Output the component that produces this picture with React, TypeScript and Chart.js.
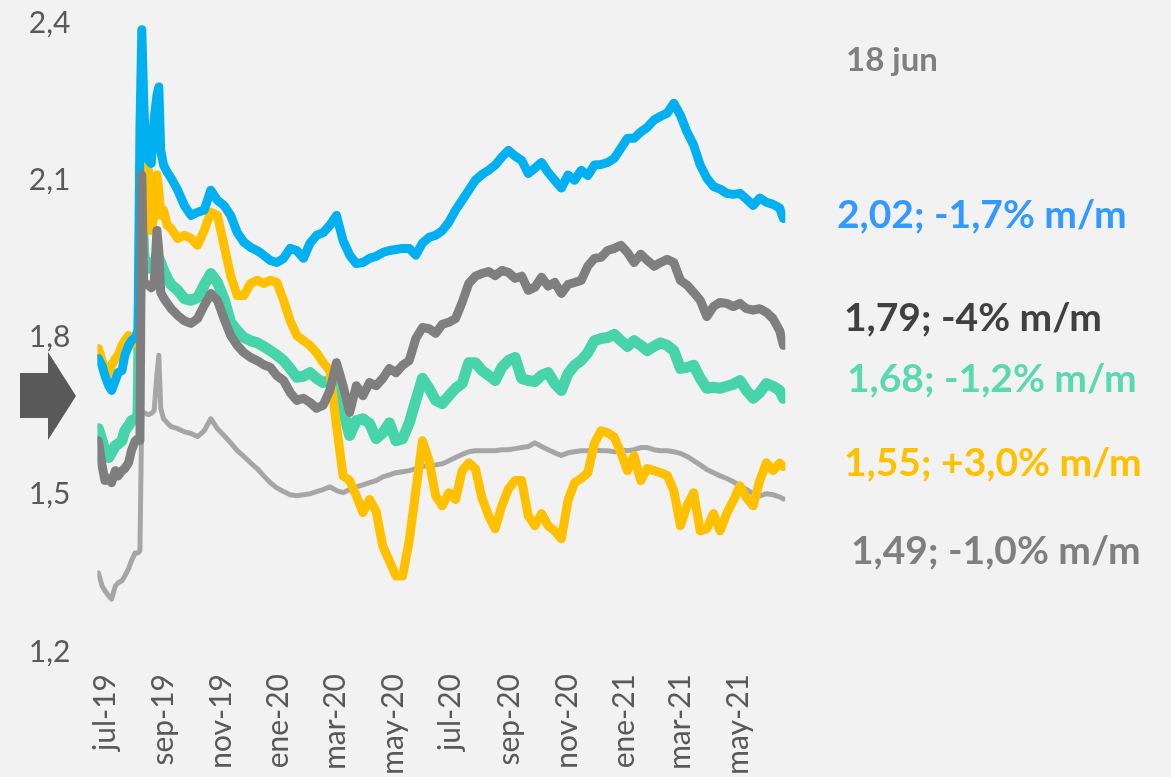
import React, { useEffect, useRef } from "react";
import { Chart, registerables } from "chart.js";

Chart.register(...registerables);

// Days since 1 Jul 2019 for each observation
const dayOffsets = [
  -7, -3, 0, 4, 7, 11, 14, 18, 21, 25, 28, 32, 35, 37, 39, 41, 43, 46, 49, 52, 55, 57, 59, 62, 66, 70,
  77, 84, 91, 98, 105, 112, 119, 126, 133, 140,
  147, 154, 161, 168, 175, 182, 189, 196, 203, 210,
  217, 224, 231, 238, 245, 252, 259, 266, 273, 280,
  287, 294, 301, 308, 315, 322, 329, 336, 343, 350,
  357, 364, 371, 378, 385, 392, 399, 406, 413, 420,
  427, 434, 441, 448, 455, 462, 469, 476, 483, 490,
  497, 504, 511, 518, 525, 532, 539, 546, 553, 560,
  567, 574, 581, 588, 595, 602, 609, 616, 623, 630,
  637, 644, 651, 658, 665, 672, 679, 686, 693, 700,
  707, 714, 718,
];

const tickDays = [0, 62, 123, 184, 244, 305, 366, 428, 489, 550, 609, 670];
const tickLabels = ["jul-19", "sep-19", "nov-19", "ene-20", "mar-20", "may-20", "jul-20", "sep-20", "nov-20", "ene-21", "mar-21", "may-21"];
const yTicks = [1.2, 1.5, 1.8, 2.1, 2.4];

const seriesBlue = [
  1.76, 1.746, 1.727, 1.708, 1.699, 1.718, 1.733, 1.737, 1.766, 1.785, 1.794, 1.8, 1.813, 2.196, 2.387, 2.253, 2.157, 2.138, 2.132, 2.215, 2.262, 2.278, 2.157, 2.129, 2.115, 2.104,
  2.081, 2.052, 2.033, 2.039, 2.043, 2.081, 2.062, 2.052, 2.033, 2.0,
  1.982, 1.972, 1.966, 1.957, 1.947, 1.943, 1.951, 1.97, 1.966, 1.951,
  1.98, 1.995, 2.0, 2.014, 2.033, 1.985, 1.957, 1.941, 1.943, 1.951,
  1.955, 1.962, 1.966, 1.968, 1.97, 1.97, 1.957, 1.98, 1.991, 1.995,
  2.004, 2.02, 2.043, 2.062, 2.081, 2.1, 2.111, 2.119, 2.129, 2.144,
  2.157, 2.146, 2.138, 2.113, 2.123, 2.134, 2.115, 2.1, 2.085, 2.11,
  2.1, 2.119, 2.109, 2.129, 2.13, 2.134, 2.142, 2.161, 2.18, 2.18,
  2.192, 2.201, 2.215, 2.222, 2.228, 2.247, 2.224, 2.192, 2.167, 2.129,
  2.104, 2.088, 2.083, 2.075, 2.073, 2.075, 2.064, 2.052, 2.066, 2.058,
  2.054, 2.047, 2.027,
];

const seriesDarkGray = [
  1.603, 1.555, 1.527, 1.531, 1.523, 1.546, 1.536, 1.546, 1.55, 1.561, 1.584, 1.603, 1.607, 1.603, 2.11, 1.903, 1.903, 1.9, 1.895, 1.9, 2.004, 1.966, 1.886, 1.876, 1.865, 1.855,
  1.842, 1.832, 1.827, 1.836, 1.861, 1.884, 1.871, 1.836, 1.804, 1.785,
  1.771, 1.762, 1.756, 1.748, 1.743, 1.727, 1.718, 1.695, 1.68, 1.684,
  1.676, 1.665, 1.671, 1.699, 1.752, 1.708, 1.657, 1.708, 1.689, 1.714,
  1.708, 1.722, 1.741, 1.733, 1.747, 1.756, 1.798, 1.819, 1.817, 1.808,
  1.825, 1.829, 1.836, 1.867, 1.903, 1.917, 1.922, 1.926, 1.918, 1.928,
  1.924, 1.913, 1.917, 1.89, 1.896, 1.915, 1.898, 1.905, 1.884, 1.901,
  1.905, 1.909, 1.936, 1.951, 1.953, 1.966, 1.97, 1.976, 1.962, 1.943,
  1.959, 1.947, 1.936, 1.943, 1.949, 1.943, 1.909, 1.9, 1.886, 1.871,
  1.84, 1.859, 1.867, 1.865, 1.859, 1.865, 1.855, 1.852, 1.855, 1.848,
  1.836, 1.813, 1.785,
];

const seriesTeal = [
  1.626, 1.603, 1.584, 1.571, 1.58, 1.594, 1.597, 1.603, 1.622, 1.632, 1.641, 1.645, 1.651, 1.928, 2.062, 1.957, 1.943, 1.932, 1.943, 1.937, 1.957, 1.951, 1.943, 1.928, 1.913, 1.901,
  1.89, 1.874, 1.871, 1.876, 1.9, 1.922, 1.905, 1.874, 1.829, 1.813,
  1.8, 1.794, 1.79, 1.783, 1.775, 1.766, 1.756, 1.741, 1.724, 1.726,
  1.733, 1.722, 1.714, 1.718, 1.708, 1.661, 1.613, 1.641, 1.645, 1.636,
  1.607, 1.618, 1.637, 1.603, 1.607, 1.637, 1.68, 1.722, 1.703, 1.68,
  1.674, 1.689, 1.703, 1.712, 1.752, 1.752, 1.737, 1.728, 1.718, 1.743,
  1.756, 1.762, 1.722, 1.718, 1.716, 1.728, 1.733, 1.712, 1.699, 1.731,
  1.747, 1.756, 1.771, 1.794, 1.798, 1.8, 1.806, 1.794, 1.783, 1.794,
  1.785, 1.775, 1.783, 1.79, 1.785, 1.775, 1.741, 1.743, 1.747, 1.722,
  1.703, 1.705, 1.703, 1.707, 1.711, 1.718, 1.699, 1.684, 1.695, 1.712,
  1.707, 1.699, 1.684,
];

const seriesGold = [
  1.779, 1.756, 1.737, 1.722, 1.747, 1.76, 1.766, 1.785, 1.794, 1.804, 1.785, 1.798, 1.804, 1.966, 2.081, 2.119, 2.129, 2.119, 2.004, 2.033, 2.11, 2.081, 2.033, 2.043, 2.014, 2.008,
  1.989, 1.995, 1.989, 1.976, 2.004, 2.039, 2.033, 1.976, 1.918, 1.88,
  1.88, 1.903, 1.909, 1.903, 1.909, 1.905, 1.871, 1.832, 1.804, 1.794,
  1.785, 1.771, 1.752, 1.737, 1.632, 1.536, 1.527, 1.498, 1.466, 1.491,
  1.468, 1.402, 1.374, 1.345, 1.345, 1.412, 1.508, 1.603, 1.565, 1.498,
  1.479, 1.504, 1.491, 1.546, 1.561, 1.55, 1.494, 1.46, 1.435, 1.479,
  1.511, 1.527, 1.527, 1.46, 1.441, 1.464, 1.441, 1.431, 1.416, 1.489,
  1.523, 1.531, 1.542, 1.598, 1.622, 1.618, 1.61, 1.58, 1.546, 1.575,
  1.527, 1.55, 1.546, 1.542, 1.537, 1.508, 1.441, 1.479, 1.504, 1.431,
  1.435, 1.464, 1.431, 1.464, 1.489, 1.517, 1.494, 1.479, 1.527, 1.561,
  1.546, 1.56, 1.554,
];

const seriesLightGray = [
  1.351, 1.326, 1.317, 1.307, 1.301, 1.326, 1.332, 1.336, 1.345, 1.359, 1.374, 1.389, 1.389, 1.393, 1.66, 1.657, 1.655, 1.653, 1.655, 1.66, 1.73, 1.766, 1.665, 1.645, 1.637, 1.63,
  1.626, 1.62, 1.617, 1.611, 1.622, 1.645, 1.626, 1.613, 1.599, 1.584,
  1.573, 1.561, 1.55, 1.536, 1.523, 1.513, 1.506, 1.5, 1.498, 1.5,
  1.502, 1.506, 1.51, 1.515, 1.508, 1.504, 1.51, 1.515, 1.519, 1.523,
  1.527, 1.534, 1.538, 1.542, 1.544, 1.546, 1.55, 1.554, 1.556, 1.557,
  1.559, 1.565, 1.571, 1.577, 1.582, 1.584, 1.584, 1.584, 1.584, 1.586,
  1.586, 1.588, 1.59, 1.592, 1.599, 1.592, 1.586, 1.58, 1.575, 1.58,
  1.582, 1.584, 1.584, 1.586, 1.584, 1.584, 1.582, 1.586, 1.584, 1.586,
  1.59, 1.59, 1.586, 1.584, 1.584, 1.582, 1.579, 1.573, 1.565, 1.557,
  1.548, 1.542, 1.536, 1.531, 1.525, 1.517, 1.51, 1.502, 1.498, 1.502,
  1.5, 1.496, 1.492,
];

const annotationTexts = [
  { text: "18 jun", color: "#7f7f7f", left: 846, cy: 59, size: 33 },
  { text: "2,02; -1,7% m/m", color: "#3399ff", left: 837, cy: 215, size: 39 },
  { text: "1,79; -4% m/m", color: "#404040", left: 844, cy: 318, size: 39 },
  { text: "1,68; -1,2% m/m", color: "#5ad8b0", left: 847, cy: 379, size: 39 },
  { text: "1,55; +3,0% m/m", color: "#ffc000", left: 844, cy: 463, size: 39 },
  { text: "1,49; -1,0% m/m", color: "#7f7f7f", left: 851, cy: 551, size: 39 },
];

const toPoints = (vals: number[]) => vals.map((v, i) => ({ x: dayOffsets[i], y: v }));

export default function App() {
  const ref = useRef<HTMLCanvasElement>(null);

  useEffect(() => {
    if (!ref.current) return;
    const font = { family: "Lato", size: 30 };
    const lineBase = {
      pointRadius: 0,
      tension: 0,
      borderJoinStyle: "round" as const,
      borderCapStyle: "round" as const,
      fill: false,
    };
    const chart = new Chart(ref.current, {
      type: "line",
      data: {
        datasets: [
          { ...lineBase, label: "gris", data: toPoints(seriesDarkGray), borderColor: "#7f7f7f", borderWidth: 9 },
          { ...lineBase, label: "azul", data: toPoints(seriesBlue), borderColor: "#00b0f0", borderWidth: 9 },
          { ...lineBase, label: "oro", data: toPoints(seriesGold), borderColor: "#ffc000", borderWidth: 9 },
          { ...lineBase, label: "verde", data: toPoints(seriesTeal), borderColor: "#48d4aa", borderWidth: 11 },
          { ...lineBase, label: "gris claro", data: toPoints(seriesLightGray), borderColor: "#a6a6a6", borderWidth: 5 },
        ],
      },
      options: {
        animation: false,
        responsive: false,
        layout: { padding: { top: 23, right: 385.7, bottom: 0, left: 0 } },
        plugins: { legend: { display: false }, tooltip: { enabled: false } },
        scales: {
          x: {
            type: "linear",
            min: -8,
            max: 720,
            grid: { display: false, drawTicks: false },
            border: { display: false },
            afterBuildTicks: (s: any) => {
              s.ticks = tickDays.map((v) => ({ value: v }));
            },
            afterFit: (s: any) => {
              s.height = 125;
              s.paddingLeft = 0;
              s.paddingRight = 0;
            },
            ticks: {
              autoSkip: false,
              minRotation: 90,
              maxRotation: 90,
              padding: 22,
              color: "#595959",
              font,
              callback: (_v: any, i: number) => tickLabels[i],
            },
          },
          y: {
            min: 1.2,
            max: 2.4,
            grid: { display: false, drawTicks: false },
            border: { display: false },
            afterBuildTicks: (s: any) => {
              s.ticks = yTicks.map((v) => ({ value: v }));
            },
            afterFit: (s: any) => {
              s.width = 97.4;
              s.paddingTop = 0;
              s.paddingBottom = 0;
            },
            ticks: {
              padding: 27,
              color: "#595959",
              font,
              callback: (v: any) => Number(v).toFixed(1).replace(".", ","),
            },
          },
        },
      },
    });
    return () => chart.destroy();
  }, []);

  return (
    <div
      style={{
        position: "absolute",
        left: 0,
        top: 0,
        width: 1171,
        height: 777,
        background: "#f2f2f2",
        overflow: "hidden",
      }}
    >
      <canvas ref={ref} width={1171} height={777} style={{ position: "absolute", left: 0, top: 0 }} />
      <svg width={90} height={100} style={{ position: "absolute", left: 0, top: 345 }}>
        <polygon points="20,28 48,28 48,7 76,51 48,95 48,73 20,73" fill="#595959" />
      </svg>
      {annotationTexts.map((a) => (
        <div
          key={a.text}
          style={{
            position: "absolute",
            left: a.left,
            top: a.cy - a.size * 0.53,
            fontFamily: "Lato",
            fontWeight: 700,
            fontSize: a.size,
            lineHeight: 1,
            color: a.color,
            whiteSpace: "nowrap",
          }}
        >
          {a.text}
        </div>
      ))}
    </div>
  );
}
